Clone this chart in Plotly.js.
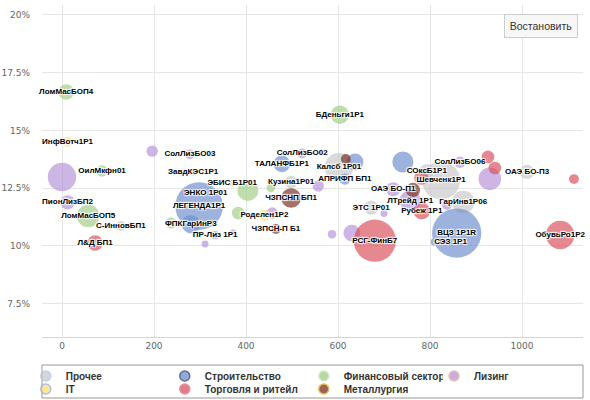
<!DOCTYPE html>
<html><head><meta charset="utf-8">
<script src="https://cdn.plot.ly/plotly-3.0.1.min.js"></script>
<style>html,body{margin:0;padding:0;background:#fff}#chart{width:590px;height:400px}</style>
</head><body><div id="chart"></div>
<script>
// ---- data: x = duration (days), y = yield (%), vol = issue size ----
const otherLabels = ["Калсб 1Р01","ЭБИС Б1Р01","ЗавдКЭС1Р1","С-ИнновБП1","Кузина1Р01","ЭТС 1Р01","СОксБ1Р1","Шевченк1Р1","ГарИнв1Р06","ОАЭ БО-П3"];
const otherX = [602, 370, 285, 128, 498, 672, 793, 824, 872, 1011];
const otherY = [13.4, 12.72, 13.2, 10.86, 12.76, 11.65, 13.24, 12.83, 11.9, 13.2];
const otherVol = [1000, 60, 60, 120, 200, 250, 250, 1800, 630, 250];

const itLabels = ["ИнфВотч1Р1","Роделен1Р2"];
const itX = [12, 440];
const itY = [14.5, 11.33];
const itVol = [120, 160];

const buildLabels = ["ЛЕГЕНДА1Р1","ФПКГарИнР3","ТАЛАНФБ1Р1","","АПРИФП БП1","","ВЦЗ 1Р1R","СЭЗ 1Р1"];
const buildX = [298, 280, 478, 637, 615, 741, 858, 809];
const buildY = [11.72, 10.94, 13.55, 13.63, 12.89, 13.63, 10.55, 10.17];
const buildVol = [2800, 420, 350, 350, 160, 550, 3000, 60];

const tradeLabels = ["Л&Д БП1","РСГ-ФинБ7","Рубеж 1Р1","","","","","ОбувьРо1Р2"];
const tradeX = [72, 680, 782, 781, 926, 941, 1113, 1083];
const tradeY = [10.12, 10.22, 11.5, 12.95, 13.85, 13.37, 12.89, 10.47];
const tradeVol = [300, 2200, 350, 250, 200, 200, 120, 1000];

const finLabels = ["ЛомМасБОП4","ОилМкфн01","ЛомМасБОП5","","","","БДеньги1Р1",""];
const finX = [9, 87, 57, 237, 404, 383, 604, 454];
const finY = [16.66, 13.24, 11.29, 10.99, 12.4, 11.42, 15.68, 12.5];
const finVol = [300, 160, 630, 160, 550, 200, 420, 90];

const metLabels = ["ЧЗПСНП БП1","ЧЗПСН-П Б1","",""];
const metX = [498, 465, 617, 763];
const metY = [12.07, 10.73, 13.76, 12.42];
const metVol = [480, 120, 120, 250];

const leaseLabels = ["","ПионЛизБП2","","СолЛизБО03","ЭНКО 1Р01","ПР-Лиз 1Р1","","","","СолЛизБО02","","ОАЭ БО-П1","ЛТрейд 1Р1","","СолЛизБО06","","","",""];
const leaseX = [0, 12, 196, 278, 265, 333, 372, 311, 457, 522, 557, 720, 757, 837, 865, 930, 630, 587, 700];
const leaseY = [12.98, 11.88, 14.1, 13.96, 12.29, 10.47, 10.55, 10.08, 11.42, 14.0, 12.59, 12.45, 11.95, 11.77, 13.62, 12.9, 10.55, 10.5, 11.4];
const leaseVol = [1000, 250, 160, 120, 25, 90, 60, 60, 160, 120, 160, 250, 550, 120, 160, 630, 350, 90, 60];

const xTicks = [0, 200, 400, 600, 800, 1000];
const yTicks = [7.5, 10, 12.5, 15, 17.5, 20];
const yTickText = ["7.5%", "10%", "12.5%", "15%", "17.5%", "20%"];

// ---- series definitions (order = legend order) ----
const series = [
  {name: "Прочее", labels: otherLabels, x: otherX, y: otherY, v: otherVol, color: "#c9c9c9", line: "#a8c3ec", legend: "legend"},
  {name: "Строительство", labels: buildLabels, x: buildX, y: buildY, v: buildVol, color: "#6f8fcf", line: "#2f3f6b", legend: "legend"},
  {name: "Финансовый сектор", labels: finLabels, x: finX, y: finY, v: finVol, color: "#a2cd86", line: "#c4e6b4", legend: "legend"},
  {name: "Лизинг", labels: leaseLabels, x: leaseX, y: leaseY, v: leaseVol, color: "#b592da", line: "#e9a98a", legend: "legend3"},
  {name: "IT", labels: itLabels, x: itX, y: itY, v: itVol, color: "#ffe070", line: "#98a6e6", legend: "legend2"},
  {name: "Торговля и ритейл", labels: tradeLabels, x: tradeX, y: tradeY, v: tradeVol, color: "#d9505c", line: "#d9707c", legend: "legend2"},
  {name: "Металлургия", labels: metLabels, x: metX, y: metY, v: metVol, color: "#7a2e22", line: "#d8a520", legend: "legend2"}
];

const rightLabels = {"ЭНКО 1Р01": 1, "СЭЗ 1Р1": 1};

const traces = [];
series.forEach(s => {
  traces.push({
    type: "scatter", mode: "markers", name: s.name, x: s.x, y: s.y,
    showlegend: false, legendgroup: s.name, hoverinfo: "skip",
    marker: {size: s.v, sizemode: "area", sizeref: 2.47, sizemin: 3, color: s.color, opacity: 0.68, line: {width: 0}}
  });
});
// legend entries
series.forEach(s => {
  traces.push({
    type: "scatter", mode: "markers", name: s.name, x: [null], y: [null],
    legend: s.legend, legendgroup: s.name, showlegend: true, hoverinfo: "skip",
    marker: {size: 10, color: s.color, opacity: 0.75, line: {width: 1.5, color: s.line}}
  });
});
// labels on top
const lx = [], ly = [], lt = [], lp = [];
series.forEach(s => {
  s.labels.forEach((t, i) => {
    if (t) { lx.push(s.x[i]); ly.push(s.y[i]); lt.push(t); lp.push(rightLabels[t] ? "middle right" : "middle center"); }
  });
});
traces.push({
  type: "scatter", mode: "text", x: lx, y: ly, text: lt, textposition: lp,
  showlegend: false, hoverinfo: "skip", cliponaxis: false,
  textfont: {family: "Liberation Sans, Arial, sans-serif", size: 8, color: "#000", weight: "bold",
             shadow: "1px 1px 1px #fff, -1px -1px 1px #fff, 1px -1px 1px #fff, -1px 1px 1px #fff"}
});

const pb = 337, pt = 5, ph = pb - pt; // pixel helpers for paper positions
const legendBase = {orientation: "h", xanchor: "left", yanchor: "middle",
  bgcolor: "rgba(0,0,0,0)", borderwidth: 0, itemclick: false, itemdoubleclick: false,
  font: {family: "Liberation Sans", size: 10, color: "#333", weight: "bold"}};
const layout = {
  width: 590, height: 400,
  margin: {l: 42, r: 7, t: 5, b: 63, autoexpand: false},
  paper_bgcolor: "#fff", plot_bgcolor: "#fff",
  showlegend: true, hovermode: false,
  xaxis: {range: [-43.5, 1132.6], tickvals: xTicks, showgrid: true, gridcolor: "#e6e6e6", gridwidth: 1,
          zeroline: false, showline: true, linecolor: "#ccd6eb", linewidth: 1, ticks: "",
          tickfont: {family: "DejaVu Sans", size: 9, color: "#666"}, fixedrange: true},
  yaxis: {range: [6.05, 20.43], tickvals: yTicks, ticktext: yTickText, showgrid: true, gridcolor: "#e6e6e6",
          zeroline: false, showline: false, ticks: "", ticklabelstandoff: 11,
          tickfont: {family: "DejaVu Sans", size: 9, color: "#666"}, fixedrange: true},
  legend: Object.assign({}, legendBase, {entrywidth: 94, x: -0.03, y: (pb - 376) / ph}),
  legend2: Object.assign({}, legendBase, {entrywidth: 94, x: -0.03, y: (pb - 389) / ph}),
  legend3: Object.assign({}, legendBase, {x: (434 - 42) / 541, y: (pb - 376) / ph}),
  shapes: [{type: "rect", xref: "paper", yref: "paper", x0: 0, x1: 1, y0: (pb - 398) / ph, y1: (pb - 365) / ph,
            line: {color: "#999", width: 1}, fillcolor: "rgba(0,0,0,0)"}],
  annotations: [{xref: "paper", yref: "paper", x: (578 - 42) / 541, xanchor: "right", y: (pb - 14) / ph, yanchor: "top",
                 text: "Востановить", showarrow: false, bgcolor: "#f7f7f7", bordercolor: "#cccccc", borderwidth: 1,
                 borderpad: 4, width: 64, height: 14, font: {family: "Liberation Sans", size: 10.5, color: "#333"}}]
};

Plotly.newPlot("chart", traces, layout, {displayModeBar: false, staticPlot: false, responsive: false});
</script>
</body></html>
